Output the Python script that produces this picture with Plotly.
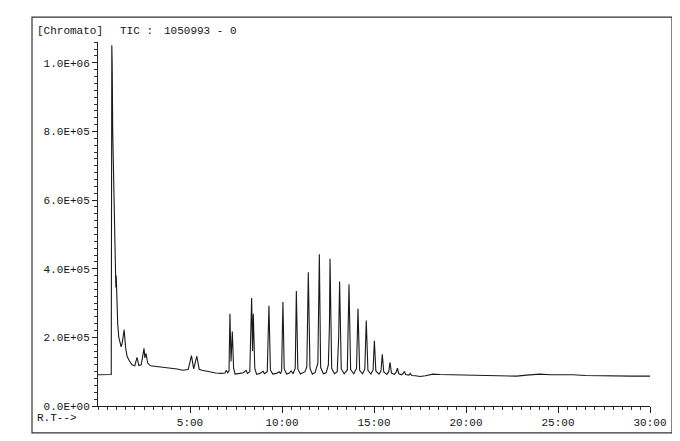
import plotly.graph_objects as go

# Retention time (min) and TIC intensity
rt_min = [
    0.00, 0.40, 0.72, 0.75, 0.77, 0.80, 0.86, 0.92, 0.95, 0.97, 0.99, 1.02, 1.07, 1.13,
    1.20, 1.26, 1.32, 1.42, 1.50, 1.58, 1.70, 1.85, 2.00, 2.12, 2.22, 2.35, 2.50,
    2.55, 2.61, 2.70, 2.85, 3.20, 3.60, 4.00, 4.30, 4.60, 4.90, 5.08, 5.20, 5.37,
    5.50, 5.65, 6.00, 6.40, 6.70, 6.90, 6.97, 7.05, 7.12, 7.17, 7.23, 7.30, 7.37,
    7.45, 7.70, 7.90, 8.05, 8.12, 8.25, 8.35, 8.40, 8.44, 8.52, 8.62, 8.80, 8.97,
    9.05, 9.20, 9.29, 9.37, 9.50, 9.70, 9.84, 9.92, 9.98, 10.05, 10.12, 10.25,
    10.40, 10.50, 10.60, 10.72, 10.78, 10.86, 11.00, 11.15, 11.25, 11.35, 11.40,
    11.43, 11.52, 11.65, 11.80, 11.95, 12.03, 12.10, 12.25, 12.40, 12.52, 12.58,
    12.61, 12.70, 12.85, 13.00, 13.08, 13.13, 13.22, 13.38, 13.55, 13.64, 13.73,
    13.90, 14.05, 14.13, 14.22, 14.38, 14.50, 14.58, 14.67, 14.83, 14.95, 15.02,
    15.10, 15.27, 15.38, 15.45, 15.53, 15.70, 15.80, 15.87, 15.95, 16.10, 16.20,
    16.27, 16.35, 16.50, 16.60, 16.65, 16.72, 16.90, 16.97, 17.05, 17.25, 17.50,
    17.80, 18.20, 18.60, 19.20, 20.00, 20.80, 21.60, 22.30, 22.75, 23.30, 24.00,
    24.60, 25.20, 25.80, 26.50, 27.20, 27.60, 28.30, 29.00, 29.60, 30.00,
]
tic = [
    91000, 91500, 92000, 1050993, 1000000, 800000, 600000, 440000, 400000, 345000, 380000, 290000, 240000, 200000,
    180000, 172000, 185000, 222000, 170000, 145000, 132000, 120000, 117000, 142000, 118000, 120000, 168000,
    140000, 153000, 125000, 117000, 115000, 112000, 109000, 108000, 104000, 106000, 147000, 108000, 145000,
    107000, 104000, 100000, 96000, 95000, 96000, 104000, 97000, 102000, 269000, 130000, 217000, 110000,
    93000, 95000, 97000, 104000, 95000, 100000, 315000, 160000, 269000, 110000, 92000, 95000, 101000,
    94000, 100000, 292000, 105000, 93000, 95000, 100000, 94000, 102000, 303000, 108000, 93000,
    96000, 102000, 94000, 110000, 335000, 108000, 93000, 96000, 100000, 115000, 237000,
    390000, 110000, 93000, 98000, 125000, 442000, 112000, 94000, 97000, 120000, 240000,
    429000, 110000, 94000, 100000, 200000, 363000, 108000, 94000, 105000, 355000, 106000,
    94000, 110000, 283000, 104000, 94000, 108000, 249000, 104000, 93000, 105000, 190000,
    102000, 93000, 102000, 151000, 99000, 92000, 100000, 127000, 96000, 92000, 98000,
    110000, 94000, 91000, 96000, 101000, 92000, 90000, 95000, 89000, 88000, 86000,
    88000, 93000, 92000, 91000, 90000, 89000, 89000, 88000, 87000, 90000, 93000,
    91000, 92000, 91000, 89000, 88000, 87000, 88000, 87000, 87000, 87000,
]

x_tick_vals = [5, 10, 15, 20, 25, 30]
x_tick_text = ["5:00", "10:00", "15:00", "20:00", "25:00", "30:00"]
y_tick_vals = [0, 200000, 400000, 600000, 800000, 1000000]
y_tick_text = ["0.0E+00", "2.0E+05", "4.0E+05", "6.0E+05", "8.0E+05", "1.0E+06"]

FONT = "Liberation Mono"
TXT = "#151515"
FS = 11

OFF = 8  # default page body margin
W, H = 680 - OFF, 441 - OFF
L, R, T, B = 98 - OFF, 30, 42 - OFF, 32
pw, ph = W - L - R, H - T - B

def px(x):  # page pixel -> paper coordinate
    return (x - OFF - L) / pw

def py(y):
    return (H - B - (y - OFF)) / ph

fig = go.Figure()
fig.add_trace(go.Scatter(
    x=rt_min, y=tic, mode="lines",
    line=dict(color="#1a1a1a", width=1.1),
    hoverinfo="skip", showlegend=False,
))

fig.update_layout(
    width=W, height=H,
    margin=dict(l=L, r=R, t=T, b=B, pad=0),
    paper_bgcolor="white", plot_bgcolor="white",
    font=dict(family=FONT, size=FS, color=TXT),
    xaxis=dict(
        range=[0, 30], showgrid=False, zeroline=False,
        showline=True, linecolor="#222", linewidth=1,
        tickmode="array", tickvals=x_tick_vals, ticktext=x_tick_text,
        ticks="outside", ticklen=6, tickcolor="#222", tickwidth=1,
        minor=dict(dtick=0.5, tick0=0, ticks="outside", ticklen=3, tickcolor="#333", showgrid=False),
        tickfont=dict(family=FONT, size=FS, color=TXT),
    ),
    yaxis=dict(
        range=[0, 1.0607e6], showgrid=False, zeroline=False,
        showline=True, linecolor="#222", linewidth=1,
        tickmode="array", tickvals=y_tick_vals, ticktext=y_tick_text,
        ticks="outside", ticklen=5, tickcolor="#222", tickwidth=1,
        minor=dict(dtick=20000, tick0=0, ticks="outside", ticklen=3, tickcolor="#333", showgrid=False),
        tickfont=dict(family=FONT, size=FS, color=TXT),
    ),
    shapes=[dict(
        type="rect", xref="paper", yref="paper",
        x0=px(32), x1=px(672), y0=py(436), y1=py(17),
        line=dict(color="#333", width=1.2), fillcolor="rgba(0,0,0,0)",
    )],
    annotations=[
        dict(text="[Chromato]", xref="paper", yref="paper", x=px(35), y=py(31),
             xanchor="left", yanchor="middle", showarrow=False),
        dict(text="TIC :", xref="paper", yref="paper", x=px(118), y=py(31),
             xanchor="left", yanchor="middle", showarrow=False),
        dict(text="1050993 - 0", xref="paper", yref="paper", x=px(162), y=py(31),
             xanchor="left", yanchor="middle", showarrow=False),
        dict(text="R.T-->", xref="paper", yref="paper", x=px(35), y=py(421),
             xanchor="left", yanchor="middle", showarrow=False),
    ],
)

fig.write_html("out.html")
